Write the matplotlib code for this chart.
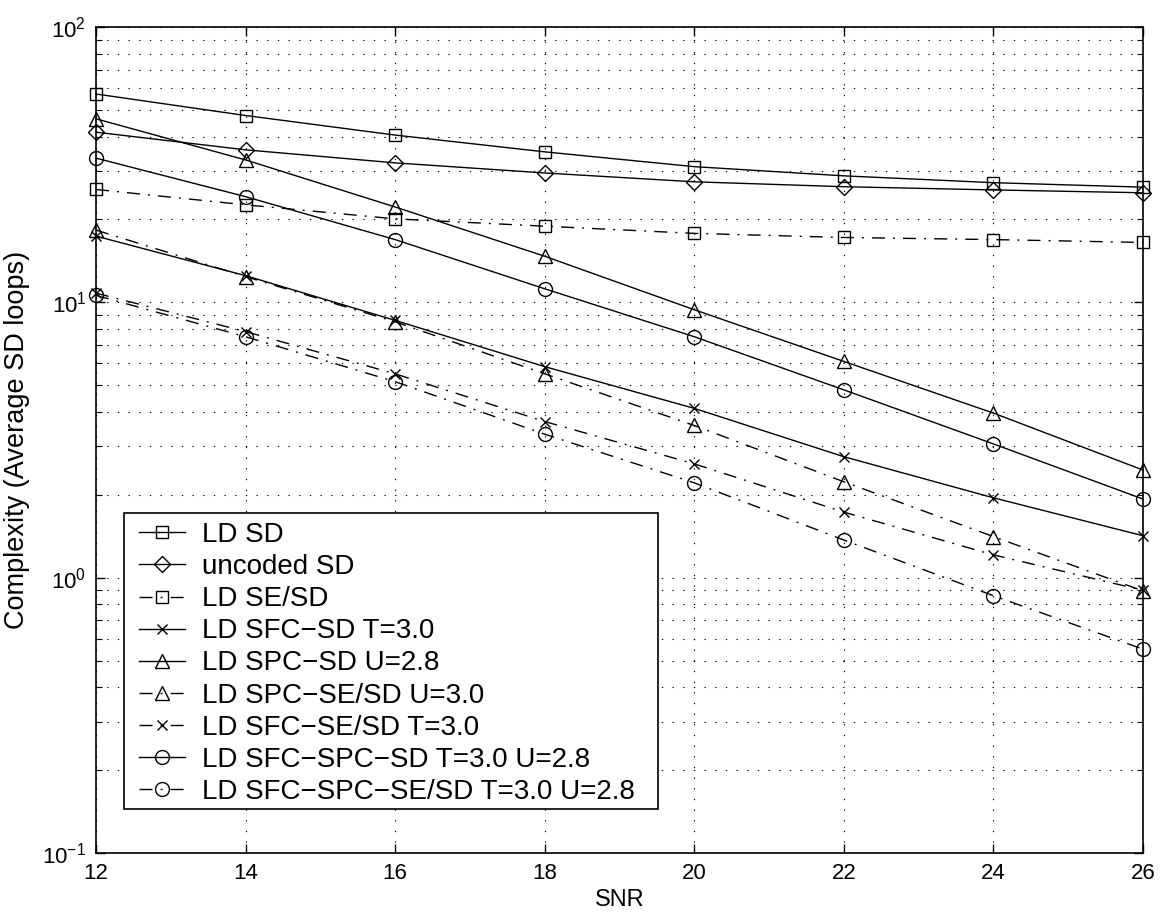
import matplotlib
matplotlib.use("Agg")
import matplotlib.pyplot as plt
from matplotlib.ticker import LogLocator, NullFormatter
from matplotlib.patches import Rectangle

plt.rcParams['font.family'] = ['Liberation Sans', 'DejaVu Sans']
plt.rcParams['mathtext.fontset'] = 'custom'
plt.rcParams['mathtext.rm'] = 'Liberation Sans'
plt.rcParams['mathtext.it'] = 'Liberation Sans'

snr = [12, 14, 16, 18, 20, 22, 24, 26]

ld_sd = [57.1, 47.7, 40.5, 35.2, 31.1, 28.8, 27.2, 26.2]
uncoded_sd = [41.5, 35.8, 32.1, 29.5, 27.4, 26.3, 25.6, 25.0]
ld_se_sd = [25.7, 22.6, 20.1, 18.9, 17.8, 17.2, 16.9, 16.5]
ld_sfc_sd = [17.4, 12.5, 8.6, 5.84, 4.12, 2.75, 1.95, 1.42]
ld_spc_sd = [46.4, 32.9, 22.2, 14.7, 9.4, 6.1, 3.96, 2.46]
ld_spc_se_sd = [18.3, 12.4, 8.5, 5.5, 3.57, 2.23, 1.41, 0.895]
ld_sfc_se_sd = [10.8, 7.83, 5.5, 3.69, 2.59, 1.73, 1.21, 0.90]
ld_sfc_spc_sd = [33.4, 24.2, 16.9, 11.2, 7.5, 4.81, 3.06, 1.93]
ld_sfc_spc_se_sd = [10.6, 7.5, 5.15, 3.32, 2.21, 1.37, 0.86, 0.55]

labels = [
    "LD SD",
    "uncoded SD",
    "LD SE/SD",
    "LD SFC\u2212SD T=3.0",
    "LD SPC\u2212SD U=2.8",
    "LD SPC\u2212SE/SD U=3.0",
    "LD SFC\u2212SE/SD T=3.0",
    "LD SFC\u2212SPC\u2212SD T=3.0 U=2.8",
    "LD SFC\u2212SPC\u2212SE/SD T=3.0 U=2.8",
]
series = [ld_sd, uncoded_sd, ld_se_sd, ld_sfc_sd, ld_spc_sd,
          ld_spc_se_sd, ld_sfc_se_sd, ld_sfc_spc_sd, ld_sfc_spc_se_sd]

dashdot = (0, (9.4, 5.8, 1.4, 5.8))
styles = ['-', '-', dashdot, '-', '-', dashdot, dashdot, '-', dashdot]
markers = ['s', 'D', 's', 'x', '^', '^', 'x', 'o', 'o']
msizes = [8, 8, 8, 7, 10, 10, 7, 10, 10]

W, H = 1166, 915
fig = plt.figure(figsize=(W / 100, H / 100), dpi=100)
ax = fig.add_axes([96 / W, 1 - 853 / H, (1143 - 96) / W, (853 - 27) / H])

for y, lab, ls, mk, ms in zip(series, labels, styles, markers, msizes):
    ax.plot(snr, y, color='k', linestyle=ls, linewidth=1.0, marker=mk,
            markersize=ms, markerfacecolor='none', markeredgecolor='k',
            markeredgewidth=1.0, label=lab, clip_on=False)

ax.set_yscale('log')
ax.set_xlim(12, 26)
ax.set_ylim(0.1, 100)
ax.set_xticks(snr)
ax.yaxis.set_major_locator(LogLocator(base=10, numticks=10))
ax.yaxis.set_minor_locator(LogLocator(base=10, subs=range(2, 10), numticks=20))
ax.yaxis.set_minor_formatter(NullFormatter())

gridstyle = (0, (1.2, 8.4))
ax.grid(True, which='major', axis='both', color='k', linestyle=gridstyle, linewidth=0.8)
ax.grid(True, which='minor', axis='y', color='k', linestyle=gridstyle, linewidth=0.8)

ax.tick_params(which='both', direction='in', top=True, right=True, labelsize=16)
ax.tick_params(which='major', length=6.3, width=1.0, pad=7)
ax.tick_params(which='minor', length=4.0, width=0.8)
for sp in ax.spines.values():
    sp.set_linewidth(1.2)

ax.set_xlabel("SNR", fontsize=17, labelpad=4)
ax.set_ylabel("Complexity (Average SD loops)", fontsize=19.5, labelpad=9)

# legend box (white, framed) placed as in the reference
box = Rectangle((124 / W, 1 - 809 / H), (658 - 124) / W, (809 - 513) / H,
                transform=fig.transFigure, facecolor='white', edgecolor='k',
                linewidth=1.2, zorder=4.5, clip_on=False)
ax.add_patch(box)

leg = ax.legend(loc='upper left', bbox_to_anchor=(139 / W, 1 - 522 / H),
                bbox_transform=fig.transFigure, fontsize=20, frameon=False,
                handlelength=1.65, handletextpad=0.6, labelspacing=0.22,
                borderpad=0.0, borderaxespad=0.0)
leg.set_zorder(5)

fig.savefig("out.png", dpi=100)
